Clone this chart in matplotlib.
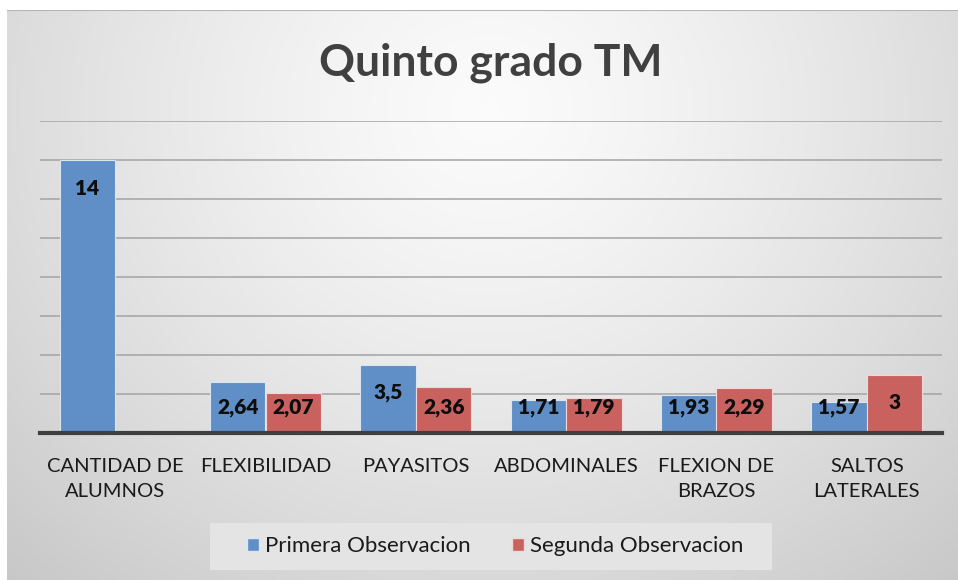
import numpy as np
import matplotlib
matplotlib.use("Agg")
import matplotlib.pyplot as plt
from matplotlib.patches import Rectangle

plt.rcParams['font.family'] = ['Lato', 'DejaVu Sans']

categories = ["CANTIDAD DE\nALUMNOS", "FLEXIBILIDAD", "PAYASITOS", "ABDOMINALES",
              "FLEXION DE\nBRAZOS", "SALTOS\nLATERALES"]
primera = [14, 2.64, 3.5, 1.71, 1.93, 1.57]
segunda = [np.nan, 2.07, 2.36, 1.79, 2.29, 3]
primera_labels = ["14", "2,64", "3,5", "1,71", "1,93", "1,57"]
segunda_labels = ["", "2,07", "2,36", "1,79", "2,29", "3"]
series_names = ["Primera Observacion", "Segunda Observacion"]
title = "Quinto grado TM"

W, H = 958, 580
fig = plt.figure(figsize=(W / 100, H / 100), dpi=100)
fig.patch.set_facecolor("white")

# background gradient panel
bx0, by0, bx1, by1 = 7, 10, 958, 580
bg = fig.add_axes([bx0 / W, 1 - by1 / H, (bx1 - bx0) / W, (by1 - by0) / H], zorder=0)
ny, nx = 300, 500
yy, xx = np.mgrid[0:ny, 0:nx]
px = bx0 + xx / (nx - 1) * (bx1 - bx0)
py = by0 + yy / (ny - 1) * (by1 - by0)
d = np.sqrt(((px - 490) / 620) ** 2 + ((py - 110) / 560) ** 2)
val = 0.985 - 0.17 * np.clip(d, 0, 1.2) ** 1.3
img = np.dstack([val, val, val])
bg.imshow(img, aspect='auto', extent=[0, 1, 0, 1], origin='upper', interpolation='bilinear')
bg.set_xlim(0, 1); bg.set_ylim(0, 1)
bg.axis('off')
bg.axhline(1, color='#b5b5b5', lw=1.5)

# main axes
ax = fig.add_axes([40 / W, 1 - 433 / H, (942 - 40) / W, (433 - 121) / H], zorder=2)
ax.set_facecolor('none')
x = np.arange(len(categories))
w = 0.37
blue = '#5f8fc6'
red = '#c9625f'
ax.bar(x - w / 2, primera, w, color=blue, edgecolor='#dbe5f1', linewidth=0.8, zorder=3)
ax.bar(x + w / 2, segunda, w, color=red, edgecolor='#f0d8d8', linewidth=0.8, zorder=3)

def lab_y(v):
    return max(v - 1.44, 1.29)

for xi, v, s in zip(x, primera, primera_labels):
    ax.text(xi - w / 2, lab_y(v), s, ha='center', va='center', fontsize=15,
            fontweight='heavy', color='#0d0d0d', zorder=5)
for xi, v, s in zip(x, segunda, segunda_labels):
    if s:
        ax.text(xi + w / 2, lab_y(v), s, ha='center', va='center', fontsize=15,
                fontweight='heavy', color='#0d0d0d', zorder=5)

ax.set_xlim(-0.5, len(categories) - 0.5)
ax.set_ylim(0, 16)
ax.set_yticks(np.arange(0, 17, 2))
ax.yaxis.grid(True, color='#a3a3a3', lw=1.1)
ax.set_axisbelow(True)
ax.tick_params(axis='y', left=False, labelleft=False)
ax.set_xticks(x)
ax.set_xticklabels(categories, fontsize=14.5, color='#1a1a1a', linespacing=1.6)
ax.tick_params(axis='x', length=0, pad=18)
for sp in ['top', 'right', 'left']:
    ax.spines[sp].set_visible(False)
ax.spines['bottom'].set_color('#3f3f3f')
ax.spines['bottom'].set_linewidth(3)
ax.spines['bottom'].set_zorder(4)

# title
fig.text(491 / W, 1 - 63 / H, title, ha='center', va='center', fontsize=32,
         fontweight='bold', color='#404040')

# legend box
lx0, ly0, lx1, ly1 = 210, 523, 772, 570
fig.patches.append(Rectangle((lx0 / W, 1 - ly1 / H), (lx1 - lx0) / W, (ly1 - ly0) / H,
                             transform=fig.transFigure, facecolor='#e4e4e4',
                             edgecolor='none', zorder=1))
leg = fig.legend([Rectangle((0, 0), 1, 1, fc=blue, ec='#dbe5f1'),
                  Rectangle((0, 0), 1, 1, fc=red, ec='#f0d8d8')],
                 series_names, loc='center', bbox_to_anchor=(495 / W, 1 - 546.5 / H),
                 ncol=2, frameon=False, fontsize=16, handlelength=0.55, handleheight=0.55,
                 handletextpad=0.28, columnspacing=1.85, borderpad=0, borderaxespad=0)
for t in leg.get_texts():
    t.set_color('#1a1a1a')

fig.savefig("out.png", dpi=100)
